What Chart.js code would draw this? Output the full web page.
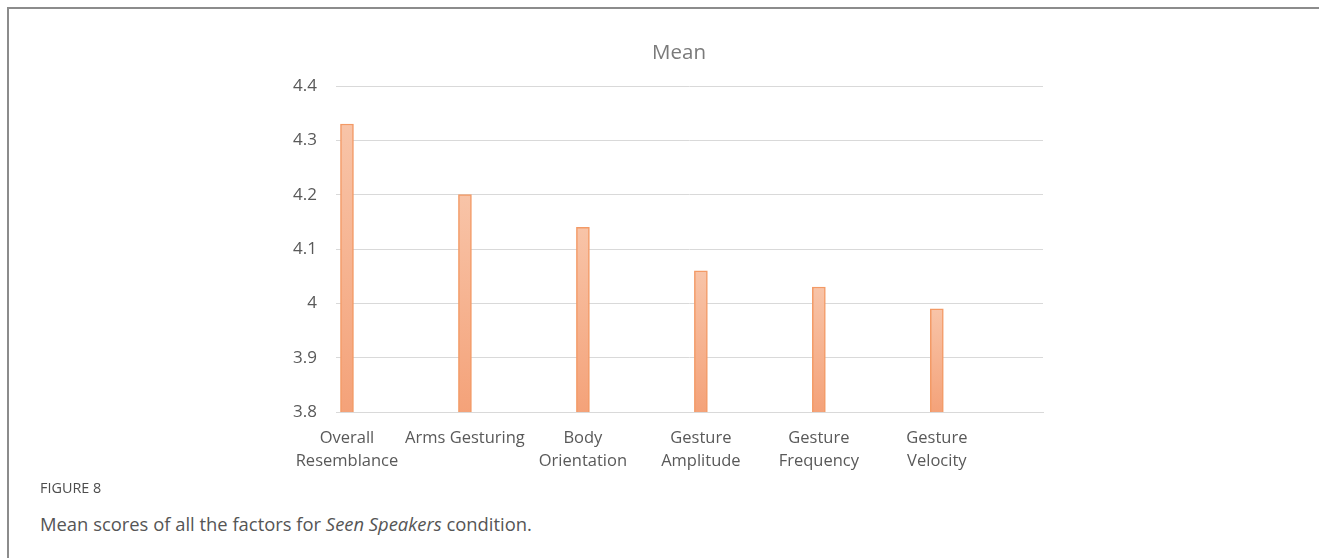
<!DOCTYPE html>
<html>
<head>
<meta charset="utf-8">
<script src="https://cdn.jsdelivr.net/npm/chart.js@4"></script>
<style>
  html, body { margin: 0; padding: 0; background: #fff; }
  body { width: 1319px; height: 558px; position: relative; overflow: hidden; font-family: "Open Sans", sans-serif; }
  .frame { position: absolute; left: 7px; top: 7px; right: -10px; bottom: -10px; border-left: 2px solid #8c8c8c; border-top: 2px solid #8c8c8c; }
  .chart-box { position: absolute; left: 0; top: 0; width: 1319px; height: 480px; }
  .fig-label { position: absolute; left: 40px; top: 478px; font-size: 14.4px; color: #4d4d4d; }
  .fig-caption { position: absolute; left: 40px; top: 511px; font-size: 18.4px; color: #555; }
</style>
</head>
<body>
<div class="frame"></div>
<div class="chart-box"><canvas id="c" width="1319" height="480"></canvas></div>
<div class="fig-label">FIGURE 8</div>
<div class="fig-caption">Mean scores of all the factors for <i>Seen Speakers</i> condition.</div>
<script>
// Factors rated, their mean scores, and the value-axis ticks
const factors = [
  ["Overall", "Resemblance"],
  ["Arms Gesturing"],
  ["Body", "Orientation"],
  ["Gesture", "Amplitude"],
  ["Gesture", "Frequency"],
  ["Gesture", "Velocity"]
];
const meanScores = [4.33, 4.20, 4.14, 4.06, 4.03, 3.99];
const yTicks = [3.8, 3.9, 4.0, 4.1, 4.2, 4.3, 4.4];

const factorPositions = factors.map((_, i) => i);

// Each bar fades from light peach at its top to a deeper orange at the base
function barGradient(ctx) {
  const chart = ctx.chart;
  const area = chart.chartArea;
  if (!area || ctx.parsed === undefined) return '#f6b593';
  const top = chart.scales.y.getPixelForValue(ctx.parsed.y);
  const g = chart.ctx.createLinearGradient(0, top, 0, area.bottom);
  g.addColorStop(0, '#f8c4a8');
  g.addColorStop(1, '#f4a279');
  return g;
}

new Chart(document.getElementById('c'), {
  type: 'bar',
  data: {
    datasets: [{
      label: 'Mean',
      data: meanScores.map((v, i) => ({ x: factorPositions[i], y: v })),
      backgroundColor: barGradient,
      borderColor: '#f39a66',
      borderWidth: 1.5,
      borderSkipped: 'bottom',
      barThickness: 13
    }]
  },
  options: {
    responsive: false,
    animation: false,
    layout: { padding: { left: 276, right: 237, top: 0, bottom: 0 } },
    plugins: {
      legend: { display: false },
      tooltip: { enabled: false },
      title: {
        display: true,
        text: 'Mean',
        color: '#7a7a7a',
        font: { family: 'Open Sans', size: 20.5, weight: 'normal' },
        padding: { top: 41, bottom: 20.4 }
      }
    },
    scales: {
      x: {
        type: 'linear',
        offset: false,
        min: -0.093,
        max: 5.9,
        afterBuildTicks: (s) => { s.ticks = factorPositions.map(v => ({ value: v })); },
        afterFit: (s) => { s.height = 68; },
        ticks: {
          callback: (v) => factors[v],
          color: '#595959',
          font: { family: 'Open Sans', size: 16.5, lineHeight: 1.4 },
          padding: 15,
          maxRotation: 0,
          autoSkip: false
        },
        grid: { display: false, drawTicks: false },
        border: { display: true, color: '#d9d9d9', width: 1 }
      },
      y: {
        min: 3.8,
        max: 4.4,
        afterBuildTicks: (s) => { s.ticks = yTicks.map(v => ({ value: v })); },
        afterFit: (s) => { s.width = 60; },
        ticks: {
          callback: (v) => String(Number(v.toFixed(1))),
          color: '#595959',
          font: { family: 'Open Sans', size: 17 },
          padding: 19
        },
        grid: { color: '#d9d9d9', drawTicks: false, lineWidth: 1 },
        border: { display: false }
      },
      // empty spacer on the right so the title sits slightly right of centre
      spacer: {
        type: 'linear',
        position: 'right',
        display: true,
        afterFit: (s) => { s.width = 39; },
        ticks: { display: false },
        grid: { display: false, drawTicks: false },
        border: { display: false }
      }
    }
  }
});
</script>
</body>
</html>
